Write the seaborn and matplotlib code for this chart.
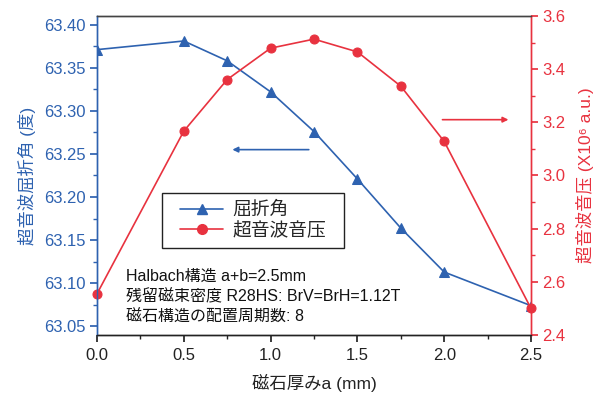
import matplotlib
matplotlib.use("Agg")
import matplotlib.pyplot as plt
import seaborn as sns
import pandas as pd
from matplotlib.ticker import MultipleLocator, FormatStrFormatter
from matplotlib.lines import Line2D
from matplotlib.patches import Rectangle

# ---- data ----
thickness = [0.0, 0.5, 0.75, 1.0, 1.25, 1.5, 1.75, 2.0, 2.5]
refraction_angle = [63.371, 63.381, 63.358, 63.322, 63.276, 63.221, 63.164, 63.113, 63.074]
sound_pressure = [2.555, 3.167, 3.361, 3.479, 3.513, 3.465, 3.336, 3.128, 2.50]

legend_labels = ["屈折角", "超音波音压"]
xlabel = "磁石厚みa (mm)"
ylabel_left = "超音波屈折角 (度)"
ylabel_right = "超音波音压 (X10⁶ a.u.)"
note_lines = ["Halbach構造 a+b=2.5mm",
              "残留磁束密度 R28HS: BrV=BrH=1.12T",
              "磁石構造の配置周期数: 8"]

BLUE = "#2e62b0"
RED = "#e8323f"

sns.set_theme(style="ticks")
plt.rcParams['font.family'] = ['Liberation Sans', 'Noto Sans CJK JP', 'DejaVu Sans']

df = pd.DataFrame({"x": thickness, "angle": refraction_angle, "pressure": sound_pressure})

L, R, T, B = 97, 531, 16, 335
fig = plt.figure(figsize=(6.01, 3.94), dpi=100)
ax = fig.add_axes([L/601, 1-B/394, (R-L)/601, (B-T)/394])
ax2 = ax.twinx()


def px(x, y):
    """pixel position -> axes fraction"""
    return ((x - L) / (R - L), (B - y) / (B - T))


sns.lineplot(data=df, x="x", y="angle", ax=ax, color=BLUE, marker="^",
             markersize=7, markeredgecolor=BLUE, linewidth=1.2)
sns.lineplot(data=df, x="x", y="pressure", ax=ax2, color=RED, marker="o",
             markersize=6.5, markeredgecolor=RED, linewidth=1.2, clip_on=False)

ax.set_xlim(0, 2.5)
ax.set_ylim(63.04, 63.41)
ax2.set_ylim(2.4, 3.6)

ax.xaxis.set_major_locator(MultipleLocator(0.5))
ax.xaxis.set_minor_locator(MultipleLocator(0.25))
ax.xaxis.set_major_formatter(FormatStrFormatter("%.1f"))
ax.yaxis.set_major_locator(MultipleLocator(0.05))
ax.yaxis.set_minor_locator(MultipleLocator(0.025))
ax.yaxis.set_major_formatter(FormatStrFormatter("%.2f"))
ax2.yaxis.set_major_locator(MultipleLocator(0.2))
ax2.yaxis.set_minor_locator(MultipleLocator(0.1))
ax2.yaxis.set_major_formatter(FormatStrFormatter("%.1f"))

tickfont = 12
ax.tick_params(axis="x", which="both", direction="out", colors="#222222",
               labelsize=tickfont, length=5, pad=4)
ax.tick_params(axis="x", which="minor", length=3)
ax.tick_params(axis="y", which="both", direction="out", colors=BLUE,
               labelsize=tickfont, length=5, pad=3)
ax.tick_params(axis="y", which="minor", length=3)
ax2.tick_params(axis="y", which="both", direction="out", colors=RED,
                labelsize=tickfont, length=5, pad=3)
ax2.tick_params(axis="y", which="minor", length=3)

for a in (ax, ax2):
    a.spines["left"].set_color(BLUE)
    a.spines["right"].set_color(RED)
    a.spines["top"].set_color("#444444")
    a.spines["bottom"].set_color("#222222")
    for s in a.spines.values():
        s.set_linewidth(1.0)
        s.set_visible(True)

ax.set_xlabel(xlabel, fontsize=12.5, color="#222222", labelpad=8)
ax.set_ylabel(ylabel_left, fontsize=12.5, color=BLUE, labelpad=6)
ax2.set_ylabel(ylabel_right, fontsize=12.5, color=RED, labelpad=8)

# arrows pointing to the respective axes
ax.annotate("", xy=(0.78, 63.255), xytext=(1.22, 63.255),
            arrowprops=dict(arrowstyle="-|>", color=BLUE, lw=1.2,
                            mutation_scale=8, shrinkA=0, shrinkB=0))
ax2.annotate("", xy=(2.37, 3.21), xytext=(1.99, 3.21),
             arrowprops=dict(arrowstyle="-|>", color=RED, lw=1.2,
                             mutation_scale=8, shrinkA=0, shrinkB=0))

# legend frame drawn as a box, entries without own frame
x0, y0 = px(162, 248)
x1, y1 = px(344, 193)
ax.add_patch(Rectangle((x0, y0), x1 - x0, y1 - y0, transform=ax.transAxes,
                       facecolor="white", edgecolor="#222222", lw=1.0,
                       zorder=4, clip_on=False))
handles = [Line2D([], [], color=BLUE, marker="^", markersize=7.5, linewidth=1.2),
           Line2D([], [], color=RED, marker="o", markersize=7, linewidth=1.2)]
leg = ax.legend(handles, legend_labels, loc="center left",
                bbox_to_anchor=px(180, 221), fontsize=13.5, frameon=False,
                handlelength=2.3, borderpad=0, labelspacing=0.15,
                handletextpad=0.5, borderaxespad=0)
leg.set_zorder(5)

tx, ty = px(126, 269)
ax.text(tx, ty, "\n".join(note_lines),
        transform=ax.transAxes, fontsize=11.5, color="#111111",
        va="top", ha="left", linespacing=1.4)

fig.savefig("out.png", dpi=100)
